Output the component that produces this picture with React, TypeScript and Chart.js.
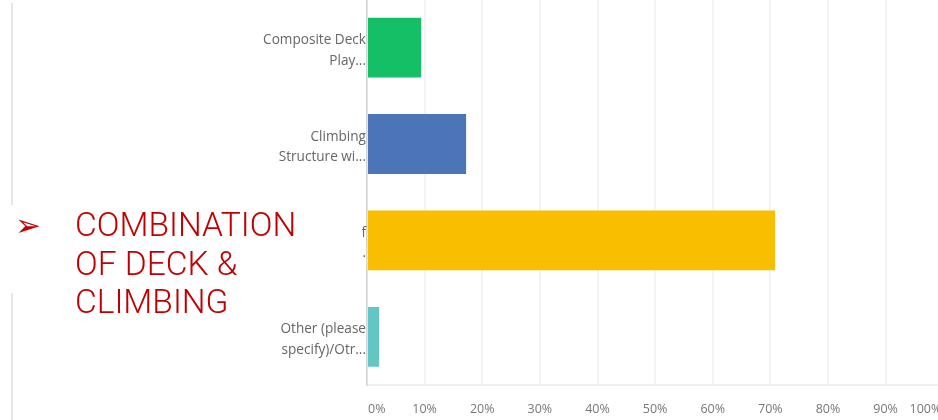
import React, { useEffect, useRef } from "react";
import { Chart, registerables } from "chart.js";

Chart.register(...registerables);

const categories: string[][] = [
  ["Composite Deck", "Play..."],
  ["Climbing", "Structure wi..."],
  ["Combination of", "Deck and..."],
  ["Other (please", "specify)/Otr..."],
];
const values: number[] = [9.4, 17.2, 70.8, 2.1];
const barColors: string[] = ["#14bf66", "#4c75b8", "#f9be00", "#62c6c4"];
const tickValues: number[] = [0, 10, 20, 30, 40, 50, 60, 70, 80, 90, 100];
const overlayLines: string[] = ["COMBINATION", "OF DECK &", "CLIMBING"];

export default function App() {
  const canvasRef = useRef<HTMLCanvasElement | null>(null);

  useEffect(() => {
    const ctx = canvasRef.current;
    if (!ctx) return;
    const chart = new Chart(ctx, {
      type: "bar",
      data: {
        labels: categories,
        datasets: [
          {
            data: values,
            backgroundColor: barColors,
            borderWidth: 0,
            barPercentage: 0.62,
            categoryPercentage: 1,
          },
        ],
      },
      options: {
        indexAxis: "y",
        animation: false,
        responsive: false,
        maintainAspectRatio: false,
        layout: { padding: { left: 0, right: 3, top: 0, bottom: 0 } },
        plugins: { legend: { display: false }, tooltip: { enabled: false } },
        scales: {
          x: {
            min: 0,
            max: 100,
            afterBuildTicks: (scale: any) => {
              scale.ticks = tickValues.map((v) => ({ value: v }));
            },
            afterFit: (scale: any) => {
              scale.height = 35;
            },
            grid: { color: "#f3f3f3", lineWidth: 2, drawTicks: false },
            border: { color: "#eeeeee", width: 2 },
            ticks: {
              padding: 17,
              maxRotation: 0,
              autoSkip: false,
              color: "#777777",
              font: { family: "Open Sans", size: 12.5 },
              callback: (v: any) => {
                const s = v + "%";
                if (v === tickValues[0]) return " ".repeat(6) + s;
                if (v === tickValues[tickValues.length - 1]) return s + " ".repeat(11);
                return s;
              },
            },
          },
          y: {
            afterFit: (scale: any) => {
              scale.width = 367;
            },
            grid: { display: false, drawTicks: false },
            border: { color: "#d4d4d4", width: 1.5 },
            ticks: {
              padding: 1,
              labelOffset: 3,
              color: "#666666",
              font: { family: "Open Sans", size: 13.6, lineHeight: 1.5 },
            },
          },
        },
      },
    });
    return () => chart.destroy();
  }, []);

  return (
    <div
      style={{
        position: "fixed",
        left: 0,
        top: 0,
        width: 938,
        height: 420,
        overflow: "hidden",
        background: "#ffffff",
      }}
    >
      <canvas
        ref={canvasRef}
        width={994}
        height={442}
        style={{ position: "absolute", left: 0, top: -22, width: 994, height: 442 }}
      />
      <div
        style={{
          position: "absolute",
          left: 11,
          top: 3,
          width: 2,
          height: 417,
          background: "#e6e6e6",
        }}
      />
      <div
        style={{
          position: "absolute",
          left: 0,
          top: 205,
          width: 362,
          height: 88,
          background: "#ffffff",
        }}
      />
      <div
        style={{
          position: "absolute",
          left: 15,
          top: 206,
          fontFamily: "DejaVu Sans",
          fontSize: 31,
          lineHeight: "38px",
          color: "#c00000",
        }}
      >
        ➢
      </div>
      <div
        style={{
          position: "absolute",
          left: 75,
          top: 206,
          fontFamily: "Roboto",
          fontWeight: 300,
          fontSize: 33.5,
          lineHeight: "38.5px",
          color: "#c00000",
          whiteSpace: "nowrap",
        }}
      >
        {overlayLines.map((l, i) => (
          <div key={i}>{l}</div>
        ))}
      </div>
    </div>
  );
}
